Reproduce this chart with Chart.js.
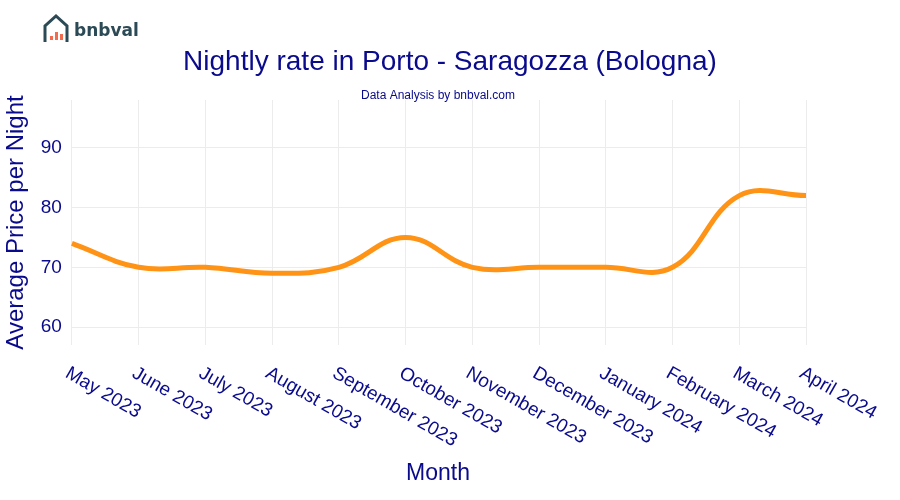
<!DOCTYPE html>
<html>
<head>
<meta charset="utf-8">
<script src="https://cdn.jsdelivr.net/npm/chart.js@4/dist/chart.umd.min.js"></script>
<style>
  body { margin: 0; background: #fff; }
  #wrap { width: 900px; height: 500px; }
</style>
</head>
<body>
<div id="wrap"><canvas id="c"></canvas></div>
<script>
const months = ["May 2023", "June 2023", "July 2023", "August 2023", "September 2023", "October 2023",
  "November 2023", "December 2023", "January 2024", "February 2024", "March 2024", "April 2024"];
const rates = [74, 70, 70, 69, 70, 75, 70, 70, 70, 70, 82, 82];
const yTicks = [60, 70, 80, 90];

const navy = "#0a0a8c";

// draws header, logo, rotated month labels and x title
const decor = {
  id: "decor",
  afterDraw(chart) {
    const ctx = chart.ctx;
    const xs = chart.scales.x;
    const area = chart.chartArea;
    ctx.save();
    ctx.fillStyle = navy;
    ctx.textAlign = "center";
    ctx.textBaseline = "middle";
    ctx.font = "28px 'Liberation Sans', Arial, sans-serif";
    ctx.fillText("Nightly rate in Porto - Saragozza (Bologna)", 450, 62);
    ctx.font = "12px 'Liberation Sans', Arial, sans-serif";
    ctx.fillText("Data Analysis by bnbval.com", 438, 96);
    ctx.font = "23px 'Liberation Sans', Arial, sans-serif";
    ctx.fillText("Month", 438, 474);

    // month labels, rotated clockwise from tick
    ctx.font = "19px 'Liberation Sans', Arial, sans-serif";
    ctx.textAlign = "left";
    months.forEach((m, i) => {
      const x = xs.getPixelForValue(i);
      ctx.save();
      ctx.translate(x - 5, area.bottom + 27);
      ctx.rotate(Math.PI / 6);
      ctx.fillText(m, 0, 0);
      ctx.restore();
    });

    // logo
    ctx.strokeStyle = "#2b4a55";
    ctx.lineWidth = 3;
    ctx.beginPath();
    ctx.moveTo(45, 42); ctx.lineTo(45, 26); ctx.lineTo(56, 16); ctx.lineTo(67, 26); ctx.lineTo(67, 42);
    ctx.stroke();
    ctx.fillStyle = "#f26b4f";
    [[50, 36, 4], [55, 32, 8], [60, 34, 6]].forEach(([x, y, h]) => ctx.fillRect(x, y, 3, h));
    ctx.fillStyle = "#2b4a55";
    ctx.font = "bold 17px 'DejaVu Sans', sans-serif";
    ctx.textBaseline = "alphabetic";
    ctx.fillText("bnbval", 74, 36);
    ctx.restore();
  }
};

new Chart(document.getElementById("c"), {
  type: "line",
  data: {
    labels: months,
    datasets: [{
      data: rates,
      borderColor: "#ff9316",
      borderWidth: 5,
      pointRadius: 0,
      tension: 0.4,
      fill: false
    }]
  },
  options: {
    responsive: true,
    maintainAspectRatio: false,
    animation: false,
    layout: { padding: { top: 100, bottom: 155, right: 94, left: 2 } },
    plugins: { legend: { display: false }, tooltip: { enabled: false } },
    scales: {
      x: {
        offset: false,
        ticks: { display: false },
        grid: { color: "#ececec", drawTicks: false },
        border: { display: false }
      },
      y: {
        min: 57,
        max: 98,
        afterBuildTicks(axis) { axis.ticks = yTicks.map(v => ({ value: v })); },
        ticks: { color: navy, font: { size: 19, family: "'Liberation Sans', Arial, sans-serif" }, padding: 10 },
        grid: { color: "#ececec", drawTicks: false },
        border: { display: false },
        title: {
          display: true,
          text: "Average Price per Night",
          color: navy,
          font: { size: 24, family: "'Liberation Sans', Arial, sans-serif" },
          padding: { top: 0, bottom: 0 }
        }
      }
    }
  },
  plugins: [decor]
});
</script>
</body>
</html>
